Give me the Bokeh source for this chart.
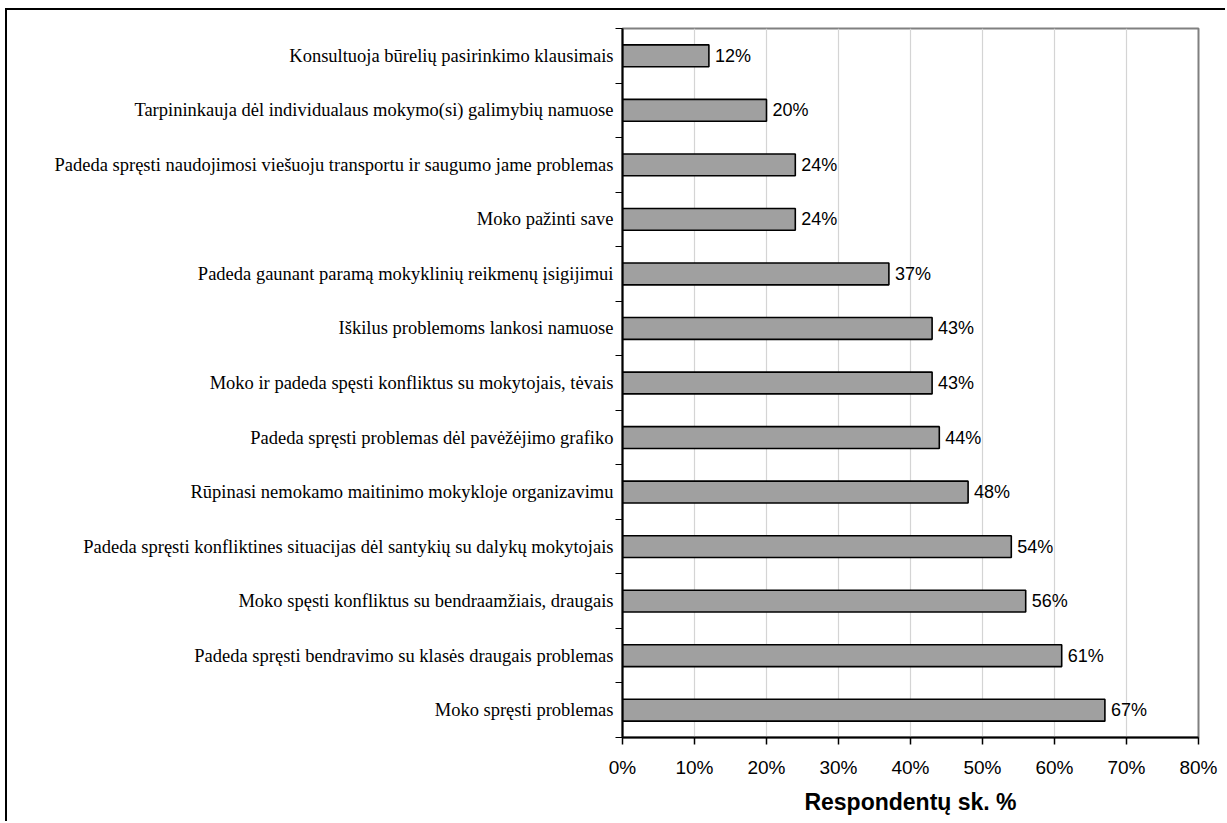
from bokeh.plotting import figure
from bokeh.models import FixedTicker, ColumnDataSource, NumeralTickFormatter
from bokeh.embed import file_html
from bokeh.resources import INLINE
from bokeh.core.properties import value

categories = [
    "Konsultuoja būrelių pasirinkimo klausimais",
    "Tarpininkauja dėl individualaus mokymo(si) galimybių namuose",
    "Padeda spręsti naudojimosi viešuoju transportu ir saugumo jame problemas",
    "Moko pažinti save",
    "Padeda gaunant paramą mokyklinių reikmenų įsigijimui",
    "Iškilus problemoms lankosi namuose",
    "Moko ir padeda spęsti konfliktus su mokytojais, tėvais",
    "Padeda spręsti problemas dėl pavėžėjimo grafiko",
    "Rūpinasi nemokamo maitinimo mokykloje organizavimu",
    "Padeda spręsti konfliktines situacijas dėl santykių su dalykų mokytojais",
    "Moko spęsti konfliktus su bendraamžiais, draugais",
    "Padeda spręsti bendravimo su klasės draugais problemas",
    "Moko spręsti problemas",
]
values = [12, 20, 24, 24, 37, 43, 43, 44, 48, 54, 56, 61, 67]
x_ticks = [0, 10, 20, 30, 40, 50, 60, 70, 80]

n = len(categories)
# top category first: position from top
ypos = [n - i - 0.5 for i in range(n)]
labels = [f"{v}%" for v in values]

src = ColumnDataSource(dict(y=ypos, v=values, lab=labels, cat=categories))

p = figure(width=1220, height=813, x_range=(0, 80), y_range=(0, n),
           output_backend="svg", toolbar_location=None,
           min_border_left=615, min_border_top=18, min_border_right=29,
           min_border_bottom=86)
p.styles = {"margin-left": "5px", "margin-top": "8px",
            "border-left": "2px solid black", "border-top": "2px solid black"}

p.hbar(y="y", right="v", left=0, height=0.4, source=src,
       fill_color="#a0a0a0", line_color="black", line_width=1.6)
p.text(x="v", y="y", text="lab", source=src, x_offset=6,
       text_align="left", text_baseline="middle",
       text_font=value("Liberation Sans"), text_font_size="18px",
       text_color="black")

# x axis
p.xaxis.ticker = FixedTicker(ticks=x_ticks)
p.xaxis.formatter = NumeralTickFormatter(format="0")
p.xaxis.major_label_overrides = {t: f"{t}%" for t in x_ticks}
p.xaxis.axis_label = "Respondentų sk. %"
p.xaxis.axis_label_text_font = "Liberation Sans"
p.xaxis.axis_label_text_font_style = "bold"
p.xaxis.axis_label_text_font_size = "23px"
p.xaxis.axis_label_text_color = "black"
p.xaxis.axis_label_standoff = 8
p.xaxis.major_label_text_font = "Liberation Sans"
p.xaxis.major_label_text_font_size = "19px"
p.xaxis.major_label_text_color = "black"
p.xaxis.major_label_standoff = 12
p.xaxis.major_tick_out = 7
p.xaxis.major_tick_in = 0
p.xaxis.minor_tick_out = 0
p.xaxis.minor_tick_in = 0
p.xaxis.axis_line_color = "black"
p.xaxis.axis_line_width = 2
p.xaxis.major_tick_line_color = "black"
p.xaxis.major_tick_line_width = 1.5

# y axis
p.yaxis.ticker = FixedTicker(ticks=ypos, minor_ticks=list(range(0, n + 1)))
p.yaxis.major_label_overrides = {y: c for y, c in zip(ypos, categories)}
p.yaxis.major_label_text_font = "Liberation Serif"
p.yaxis.major_label_text_font_size = "18.5px"
p.yaxis.major_label_text_color = "black"
p.yaxis.major_label_standoff = 2
p.yaxis.major_tick_out = 0
p.yaxis.major_tick_in = 0
p.yaxis.minor_tick_out = 7
p.yaxis.minor_tick_in = 0
p.yaxis.minor_tick_line_color = "black"
p.yaxis.minor_tick_line_width = 1.2
p.yaxis.axis_line_color = "black"
p.yaxis.axis_line_width = 2

p.xgrid.ticker = FixedTicker(ticks=x_ticks)
p.xgrid.grid_line_color = "#d4d4d4"
p.xgrid.grid_line_width = 1.2
p.ygrid.grid_line_color = None

p.outline_line_color = "#808080"
p.outline_line_width = 2
p.background_fill_color = "white"
p.border_fill_color = "white"

open("out.html", "w").write(file_html(p, INLINE))
